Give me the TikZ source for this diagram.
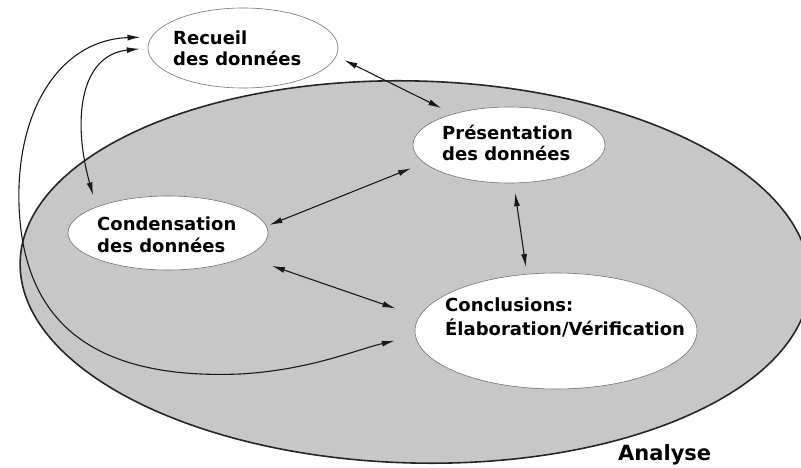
\documentclass[tikz,border=0pt]{standalone}
\usepackage{fontspec}
\setmainfont{DejaVu Sans}
\usetikzlibrary{arrows.meta,shapes.geometric}
\begin{document}
\begin{tikzpicture}[x=1pt,y=-1pt,
  bubble/.style={ellipse, draw=black!55, line width=0.6pt, fill=white, inner sep=0pt},
  lbl/.style={font=\bfseries\fontsize{18}{21}\selectfont, align=left, anchor=west, inner sep=0pt},
  link/.style={{Latex[length=13pt,width=6pt]}-{Latex[length=13pt,width=6pt]}, line width=1.1pt, draw=black!90},
  zone/.style={fill=black!22, draw=black!85, line width=1.6pt}
]
\useasboundingbox (0,0) rectangle (801,468);
% Analyse zone
\path[zone, rotate around={-1.5:(415,272)}] (415,272) ellipse [x radius=395, y radius=191];
\node[font=\bfseries\fontsize{21}{25}\selectfont, anchor=base west, inner sep=0pt] (analyse) at (618,460) {Analyse};
% bubbles
\node[bubble, minimum width=190pt, minimum height=80pt] (rec) at (243,48) {};
\node[bubble, minimum width=192pt, minimum height=76pt] (pres) at (509,145) {};
\node[bubble, minimum width=200pt, minimum height=74pt] (cond) at (168,233) {};
\node[bubble, minimum width=282pt, minimum height=116pt] (conc) at (556,331) {};
% texts
\node[lbl] (rect) at (173,48) {Recueil\\des données};
\node[lbl] (prest) at (442,143) {Présentation\\des données};
\node[lbl] (condt) at (97,235) {Condensation\\[1pt]des données};
\node[lbl] (conct) at (445,317) {Conclusions:\\[3pt]Élaboration/Vérification};
% links
\draw[link, shorten <=9pt, shorten >=13pt] (rec.-5) -- (pres.151);
\draw[link, shorten <=14pt, shorten >=3pt] (pres.192) -- (cond.4);
\draw[link, shorten <=10pt, shorten >=7pt] (pres.-83) -- (conc.117);
\draw[link, shorten <=28pt, shorten >=25pt] (cond.-17) -- (conc.174);
\draw[link, shorten <=8pt, shorten >=12pt] (rec.180) .. controls (80,55) and (72,120) .. (cond.160);
\draw[link, shorten <=11pt, shorten >=21pt] (rec.173) .. controls (60,40) and (16,110) .. (19,205)
   .. controls (23,320) and (90,380) .. (240,374)
   .. controls (310,370) and (355,350) .. (conc.182);
\end{tikzpicture}
\end{document}
